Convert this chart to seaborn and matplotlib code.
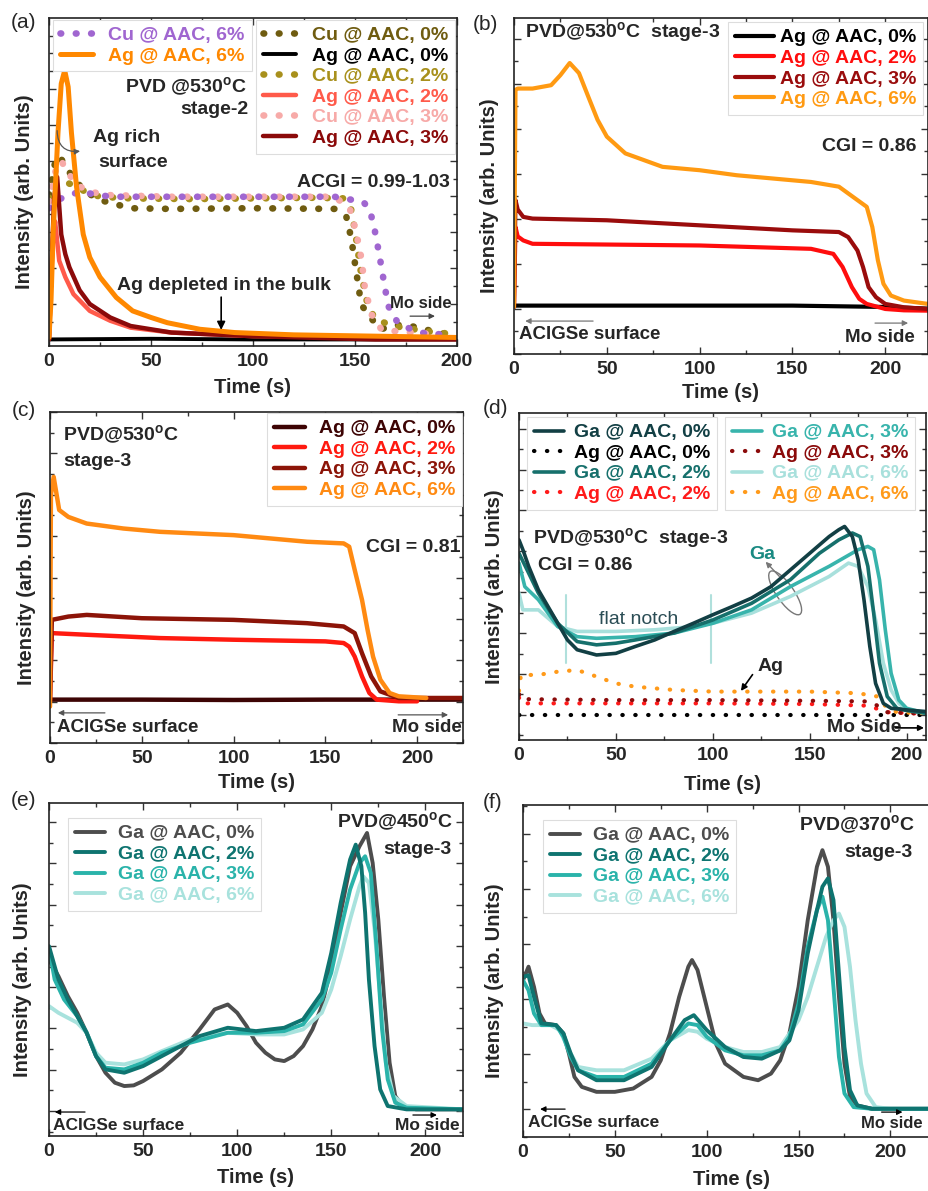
import seaborn as sns
import matplotlib.pyplot as plt
import matplotlib.ticker as ticker
from matplotlib.patches import Ellipse

# ---------------- data (y in normalised intensity) ----------------
# (a) PVD @530C stage-2
a_ag6_t = [0, 1, 2, 4.4, 6, 7.7, 9.4, 11, 13.5, 16.8, 20, 25, 33, 41, 50, 58, 74, 91, 120, 150, 200]
a_ag6_y = [0.026, 0.14, 0.34, 0.65, 0.80, 0.84, 0.79, 0.65, 0.485, 0.34, 0.27, 0.21, 0.148, 0.107, 0.087, 0.071, 0.051, 0.041, 0.034, 0.031, 0.026]
a_ag3_t = [0, 1, 2.5, 4, 6, 8, 10, 15, 20, 30, 40, 60, 100, 160, 200]
a_ag3_y = [0.02, 0.2, 0.45, 0.515, 0.34, 0.28, 0.24, 0.17, 0.128, 0.087, 0.061, 0.041, 0.03, 0.02, 0.02]
a_ag2_t = [0, 1, 2, 3, 5, 8, 12, 20, 30, 40, 60, 100, 200]
a_ag2_y = [0.02, 0.2, 0.33, 0.38, 0.26, 0.21, 0.158, 0.107, 0.077, 0.056, 0.041, 0.03, 0.023]
a_ag0_t = [0, 50, 100, 150, 200]
a_ag0_y = [0.02, 0.022, 0.02, 0.02, 0.02]
a_cu6_t = [0, 3, 6, 10, 15, 20, 30, 50, 80, 110, 140, 150, 154, 157.3, 159.7, 161.9, 164.3, 166.3, 171.2, 179.5, 186, 193.4]
a_cu6_y = [0.42, 0.44, 0.45, 0.46, 0.47, 0.465, 0.455, 0.455, 0.455, 0.455, 0.455, 0.444, 0.44, 0.415, 0.352, 0.279, 0.191, 0.122, 0.068, 0.046, 0.036, 0.036]
a_cu0_t = [0, 3, 5, 8, 12, 18, 25, 40, 60, 100, 140, 145.8, 148.2, 149.9, 152.3, 154, 157.3, 162.2, 172.9, 179.5, 197.5]
a_cu0_y = [0.46, 0.56, 0.58, 0.55, 0.51, 0.47, 0.445, 0.42, 0.418, 0.42, 0.418, 0.393, 0.327, 0.255, 0.157, 0.118, 0.09, 0.051, 0.066, 0.058, 0.031]
a_cu2_t = [0, 4, 8, 12, 18, 25, 40, 70, 100, 130, 145, 148, 150, 153, 156, 160, 170, 185, 200]
a_cu2_y = [0.45, 0.5, 0.5, 0.49, 0.47, 0.455, 0.45, 0.448, 0.45, 0.452, 0.45, 0.42, 0.35, 0.22, 0.13, 0.08, 0.06, 0.045, 0.035]
a_cu3_t = [0, 3, 6, 9, 14, 20, 30, 60, 100, 140, 147.4, 150.4, 153.2, 154.8, 158, 163, 170, 180, 190]
a_cu3_y = [0.44, 0.53, 0.565, 0.53, 0.49, 0.47, 0.46, 0.455, 0.455, 0.455, 0.42, 0.352, 0.265, 0.179, 0.097, 0.05, 0.045, 0.04, 0.035]

# (b) PVD@530C stage-3, CGI 0.86
b_ag6_t = [0, 0.8, 2, 10, 20, 25, 30, 35, 40, 45, 50, 60, 70, 80, 100, 120, 140, 160, 175, 185, 190, 193, 196, 199, 203, 210, 223]
b_ag6_y = [0.14, 0.786, 0.79, 0.79, 0.80, 0.83, 0.866, 0.836, 0.766, 0.697, 0.647, 0.597, 0.577, 0.557, 0.547, 0.532, 0.522, 0.512, 0.498, 0.458, 0.438, 0.378, 0.279, 0.209, 0.174, 0.159, 0.149]
b_ag3_t = [0, 0.8, 2, 5, 10, 50, 100, 150, 175, 180, 185, 188, 191, 195, 200, 210, 223]
b_ag3_y = [0.14, 0.458, 0.43, 0.408, 0.403, 0.398, 0.383, 0.368, 0.363, 0.348, 0.308, 0.259, 0.199, 0.169, 0.149, 0.139, 0.134]
b_ag2_t = [0, 0.8, 2, 5, 10, 100, 160, 172, 177, 182, 186, 190, 200, 210, 223]
b_ag2_y = [0.14, 0.378, 0.35, 0.338, 0.328, 0.323, 0.313, 0.298, 0.259, 0.199, 0.164, 0.149, 0.134, 0.13, 0.129]
b_ag0_t = [0, 50, 100, 150, 200, 223]
b_ag0_y = [0.144, 0.144, 0.144, 0.144, 0.14, 0.135]

# (c) PVD@530C stage-3, CGI 0.81
c_ag6_t = [0, 0.5, 2, 5, 10, 20, 40, 60, 80, 100, 120, 140, 160, 163, 166, 170, 173, 176, 180, 185, 190, 205]
c_ag6_y = [0.11, 0.75, 0.804, 0.704, 0.683, 0.663, 0.648, 0.638, 0.633, 0.628, 0.618, 0.608, 0.603, 0.593, 0.523, 0.432, 0.342, 0.261, 0.191, 0.151, 0.141, 0.136]
c_ag3_t = [0, 1, 10, 20, 50, 100, 140, 160, 166, 170, 175, 180, 190, 225]
c_ag3_y = [0.13, 0.372, 0.382, 0.387, 0.377, 0.372, 0.362, 0.352, 0.332, 0.271, 0.201, 0.156, 0.136, 0.136]
c_ag2_t = [0, 1, 20, 60, 100, 150, 160, 163, 166, 170, 174, 178, 190, 200]
c_ag2_y = [0.13, 0.332, 0.327, 0.317, 0.312, 0.307, 0.302, 0.291, 0.261, 0.201, 0.151, 0.131, 0.126, 0.126]
c_ag0_t = [0, 50, 100, 150, 225]
c_ag0_y = [0.131, 0.131, 0.13, 0.131, 0.131]

# (d) Ga and Ag, PVD@530C stage-3
d_ga0_t = [0, 2, 5, 10, 15, 20, 25, 30, 40, 50, 60, 70, 80, 90, 100, 110, 120, 130, 140, 150, 160, 165, 168, 172, 175, 178, 181, 184, 188, 192, 200, 210]
d_ga0_y = [0.612, 0.582, 0.531, 0.459, 0.408, 0.357, 0.306, 0.276, 0.26, 0.265, 0.286, 0.306, 0.332, 0.357, 0.383, 0.408, 0.434, 0.469, 0.52, 0.571, 0.622, 0.643, 0.653, 0.622, 0.551, 0.429, 0.286, 0.173, 0.112, 0.097, 0.092, 0.087]
d_ga2_t = [0, 5, 10, 20, 30, 40, 50, 60, 80, 100, 120, 140, 155, 165, 172, 176, 180, 183, 186, 190, 195, 200, 210]
d_ga2_y = [0.571, 0.51, 0.449, 0.357, 0.301, 0.291, 0.296, 0.306, 0.327, 0.367, 0.418, 0.49, 0.571, 0.612, 0.633, 0.622, 0.531, 0.388, 0.235, 0.133, 0.097, 0.09, 0.082]
d_ga3_t = [0, 3, 10, 20, 30, 40, 60, 80, 100, 120, 140, 160, 175, 180, 183, 186, 189, 192, 196, 200, 210]
d_ga3_y = [0.541, 0.469, 0.429, 0.347, 0.316, 0.311, 0.316, 0.327, 0.357, 0.398, 0.469, 0.531, 0.582, 0.592, 0.582, 0.49, 0.337, 0.204, 0.122, 0.097, 0.082]
d_ga6_t = [0, 2, 10, 20, 30, 50, 70, 90, 100, 120, 140, 160, 170, 175, 180, 184, 188, 192, 196, 200, 210]
d_ga6_y = [0.449, 0.398, 0.398, 0.347, 0.332, 0.332, 0.337, 0.347, 0.357, 0.388, 0.439, 0.5, 0.541, 0.531, 0.469, 0.367, 0.235, 0.153, 0.112, 0.092, 0.082]
d_ag6_t = [0, 1, 10, 20, 30, 35, 40, 50, 60, 80, 100, 120, 150, 175, 185, 190, 195, 210]
d_ag6_y = [0.15, 0.199, 0.199, 0.209, 0.214, 0.204, 0.194, 0.173, 0.163, 0.153, 0.148, 0.148, 0.148, 0.143, 0.133, 0.097, 0.085, 0.082]
d_ag3_t = [0, 1, 50, 100, 150, 180, 185, 190, 210]
d_ag3_y = [0.14, 0.125, 0.122, 0.122, 0.12, 0.118, 0.105, 0.085, 0.08]
d_ag2_t = [0, 1, 50, 100, 150, 180, 185, 190, 210]
d_ag2_y = [0.13, 0.112, 0.112, 0.112, 0.11, 0.105, 0.095, 0.085, 0.08]
d_ag0_t = [0, 50, 100, 150, 200, 210]
d_ag0_y = [0.077, 0.077, 0.077, 0.077, 0.077, 0.077]

# (e) Ga, PVD@450C stage-3
e_ga0_t = [0, 5, 10, 15, 20, 25, 30, 35, 40, 45, 50, 60, 70, 80, 88, 95, 100, 105, 110, 115, 120, 125, 130, 135, 140, 145, 150, 155, 160, 165, 169, 172, 175, 178, 181, 184, 188, 195, 220]
e_ga0_y = [0.53, 0.48, 0.42, 0.37, 0.31, 0.24, 0.19, 0.16, 0.15, 0.152, 0.165, 0.20, 0.25, 0.32, 0.38, 0.395, 0.37, 0.33, 0.28, 0.25, 0.23, 0.225, 0.24, 0.27, 0.32, 0.39, 0.51, 0.67, 0.81, 0.87, 0.91, 0.82, 0.65, 0.42, 0.22, 0.12, 0.09, 0.08, 0.08]
e_ga2_t = [0, 5, 10, 15, 20, 25, 30, 40, 50, 60, 70, 80, 95, 110, 125, 135, 145, 150, 155, 160, 163, 166, 168, 170, 173, 176, 180, 190, 220]
e_ga2_y = [0.57, 0.47, 0.41, 0.36, 0.31, 0.24, 0.20, 0.19, 0.21, 0.24, 0.27, 0.30, 0.325, 0.315, 0.325, 0.35, 0.43, 0.55, 0.70, 0.83, 0.875, 0.81, 0.67, 0.47, 0.27, 0.14, 0.09, 0.08, 0.08]
e_ga3_t = [0, 3, 8, 15, 20, 25, 30, 40, 50, 60, 75, 95, 110, 125, 135, 145, 150, 155, 160, 165, 168, 171, 174, 177, 180, 184, 190, 220]
e_ga3_y = [0.565, 0.47, 0.41, 0.36, 0.31, 0.24, 0.205, 0.20, 0.22, 0.25, 0.28, 0.31, 0.31, 0.315, 0.335, 0.41, 0.49, 0.62, 0.74, 0.82, 0.84, 0.79, 0.57, 0.32, 0.17, 0.10, 0.085, 0.08]
e_ga6_t = [0, 5, 10, 15, 20, 25, 30, 40, 50, 60, 75, 95, 110, 125, 135, 145, 150, 155, 160, 165, 167, 170, 173, 176, 179, 183, 190, 220]
e_ga6_y = [0.39, 0.37, 0.355, 0.34, 0.31, 0.25, 0.22, 0.215, 0.23, 0.255, 0.29, 0.31, 0.305, 0.305, 0.32, 0.37, 0.44, 0.54, 0.65, 0.75, 0.78, 0.76, 0.62, 0.42, 0.22, 0.12, 0.09, 0.08]

# (f) Ga, PVD@370C stage-3
f_ga0_t = [0, 3, 6, 9, 12, 18, 22, 25, 28, 32, 40, 50, 60, 70, 75, 80, 85, 90, 92, 95, 100, 105, 110, 120, 128, 135, 140, 145, 150, 155, 160, 163, 166, 169, 172, 175, 178, 182, 190, 227]
f_ga0_y = [0.472, 0.513, 0.452, 0.372, 0.342, 0.337, 0.312, 0.251, 0.181, 0.151, 0.136, 0.136, 0.146, 0.181, 0.231, 0.312, 0.422, 0.513, 0.533, 0.503, 0.392, 0.281, 0.221, 0.181, 0.171, 0.191, 0.231, 0.312, 0.452, 0.653, 0.814, 0.864, 0.814, 0.653, 0.422, 0.221, 0.121, 0.095, 0.085, 0.085]
f_ga2_t = [0, 3, 6, 10, 18, 22, 26, 30, 40, 55, 70, 80, 88, 93, 100, 110, 120, 130, 140, 145, 150, 155, 160, 163, 166, 169, 172, 175, 178, 182, 190, 227]
f_ga2_y = [0.482, 0.487, 0.422, 0.342, 0.337, 0.312, 0.251, 0.201, 0.171, 0.171, 0.211, 0.291, 0.352, 0.367, 0.322, 0.271, 0.241, 0.236, 0.261, 0.291, 0.382, 0.553, 0.683, 0.754, 0.779, 0.714, 0.492, 0.271, 0.141, 0.095, 0.085, 0.085]
f_ga3_t = [0, 3, 6, 10, 18, 22, 26, 30, 40, 55, 70, 80, 90, 95, 100, 110, 120, 130, 140, 145, 150, 155, 160, 163, 166, 169, 172, 175, 180, 190, 227]
f_ga3_y = [0.472, 0.442, 0.372, 0.337, 0.337, 0.302, 0.241, 0.201, 0.181, 0.181, 0.221, 0.291, 0.342, 0.337, 0.302, 0.261, 0.246, 0.246, 0.261, 0.302, 0.402, 0.573, 0.683, 0.724, 0.653, 0.452, 0.241, 0.131, 0.09, 0.085, 0.085]
f_ga6_t = [0, 5, 15, 20, 25, 30, 40, 55, 70, 80, 90, 95, 100, 110, 120, 130, 140, 150, 155, 160, 165, 169, 172, 175, 178, 181, 184, 187, 192, 200, 227]
f_ga6_y = [0.342, 0.337, 0.337, 0.322, 0.261, 0.211, 0.201, 0.201, 0.236, 0.291, 0.322, 0.317, 0.296, 0.271, 0.256, 0.256, 0.271, 0.352, 0.422, 0.513, 0.603, 0.653, 0.673, 0.633, 0.513, 0.352, 0.221, 0.131, 0.09, 0.085, 0.085]

LEG = 'Ag @ AAC, {}'
GA = 'Ga @ AAC, {}'
CU = 'Cu @ AAC, {}'

# ---------------- style ----------------
sns.set_style('ticks')
plt.rcParams['font.family'] = ['Liberation Sans', 'DejaVu Sans']
plt.rcParams['font.weight'] = 'bold'
plt.rcParams['mathtext.fontset'] = 'custom'
plt.rcParams['mathtext.rm'] = 'Liberation Sans:bold'
plt.rcParams['mathtext.bf'] = 'Liberation Sans:bold'
DEG = '$^\\mathrm{o}$'

W, H = 929, 1191
fig = plt.figure(figsize=(W / 100, H / 100), dpi=100)


def make_ax(l, t, r, b):
    return fig.add_axes([l / W, 1 - b / H, (r - l) / W, (b - t) / H])


def style(ax, xmax, ybase, yoff, xlab_y, ylab_x):
    ax.set_xlim(0, xmax)
    ax.set_ylim(0, 1)
    ax.xaxis.set_major_locator(ticker.MultipleLocator(50))
    ax.xaxis.set_minor_locator(ticker.MultipleLocator(25))
    ax.yaxis.set_major_locator(ticker.MultipleLocator(ybase, offset=yoff))
    ax.yaxis.set_minor_locator(ticker.AutoMinorLocator(2))
    ax.tick_params(which='both', direction='in', top=True, right=True, labelleft=False, width=1, color='#333333')
    ax.tick_params(which='major', length=5, labelsize=14, pad=5)
    ax.tick_params(which='minor', length=3)
    for s in ax.spines.values():
        s.set_linewidth(1.2)
        s.set_color('#222222')
    ax.set_xlabel('Time (s)', fontsize=14.5, fontweight='bold')
    ax.set_ylabel('Intensity (arb. Units)', fontsize=14.5, fontweight='bold')
    ax.xaxis.set_label_coords(0.5, xlab_y)
    ax.yaxis.set_label_coords(ylab_x, 0.47)


def trace(ax, t, y, color, lw, label, dotted=False, gap=2.2):
    sns.lineplot(x=t, y=y, ax=ax, color=color, linewidth=lw, estimator=None, sort=False, legend=False)
    ln = ax.lines[-1]
    if dotted:
        ln.set_linestyle((0, (0.1, gap)))
        ln.set_dash_capstyle('round')
    ln.set_label(label)
    return ln


def legend(ax, handles, anchor, loc, hl, htp):
    leg = ax.legend(handles=handles, loc=loc, bbox_to_anchor=anchor, fontsize=14, labelspacing=0.15,
                    handlelength=hl, handletextpad=htp, borderpad=0.35, borderaxespad=0, frameon=True,
                    fancybox=False, edgecolor='#dddddd', framealpha=1)
    leg.get_frame().set_linewidth(0.8)
    for txt, h in zip(leg.get_texts(), handles):
        txt.set_color(h.get_color())
        txt.set_fontweight('bold')
    return leg


def txt(ax, x, y, s, ha='left', size=14, **kw):
    ax.text(x, y, s, transform=ax.transAxes, ha=ha, va='center', fontsize=size, fontweight=kw.pop('weight', 'bold'), **kw)


def arrow(ax, x0, x1, y, color='#444444', lw=0.9):
    ax.annotate('', xy=(x1, y), xytext=(x0, y), xycoords='axes fraction',
                arrowprops=dict(arrowstyle='-|>', color=color, lw=lw, mutation_scale=8, shrinkA=0, shrinkB=0))


# ---------------- (a) ----------------
ax = make_ax(49, 18, 457, 346)
cu0 = trace(ax, a_cu0_t, a_cu0_y, '#6f5c10', 4.8, CU.format('0%'), dotted=True)
cu2 = trace(ax, a_cu2_t, a_cu2_y, '#a8901c', 4.8, CU.format('2%'), dotted=True)
cu3 = trace(ax, a_cu3_t, a_cu3_y, '#f7aaa8', 4.8, CU.format('3%'), dotted=True)
cu6 = trace(ax, a_cu6_t, a_cu6_y, '#a066d0', 4.8, CU.format('6%'), dotted=True)
ag0 = trace(ax, a_ag0_t, a_ag0_y, '#000000', 2.8, LEG.format('0%'))
ag2 = trace(ax, a_ag2_t, a_ag2_y, '#ff5a4a', 3.2, LEG.format('2%'))
ag3 = trace(ax, a_ag3_t, a_ag3_y, '#8b0a0a', 3.2, LEG.format('3%'))
ag6 = trace(ax, a_ag6_t, a_ag6_y, '#ff8800', 3.6, LEG.format('6%'))
style(ax, 200, 0.109, 0.02, -0.098, -0.037)
l1 = legend(ax, [cu6, ag6], (0.01, 0.995), 'upper left', 1.7, 0.8)
ax.add_artist(l1)
legend(ax, [cu0, ag0, cu2, ag2, cu3, ag3], (0.995, 0.995), 'upper right', 1.7, 0.8)
txt(ax, 0.485, 0.787, 'PVD @530' + DEG + 'C', ha='right')
txt(ax, 0.488, 0.72, 'stage-2', ha='right')
txt(ax, 0.191, 0.637, 'Ag rich', ha='center')
txt(ax, 0.206, 0.558, 'surface', ha='center')
ax.annotate('', xy=(0.083, 0.595), xytext=(0.02, 0.665), xycoords='axes fraction',
            arrowprops=dict(arrowstyle='-|>', color='#555555', lw=0.9, mutation_scale=8,
                            connectionstyle='arc3,rad=0.6'))
txt(ax, 0.608, 0.497, 'ACGI = 0.99-1.03')
txt(ax, 0.167, 0.183, 'Ag depleted in the bulk')
ax.annotate('', xy=(0.422, 0.049), xytext=(0.422, 0.149), xycoords='axes fraction',
            arrowprops=dict(arrowstyle='-|>', color='black', lw=1.2, mutation_scale=12, shrinkA=0, shrinkB=0))
txt(ax, 0.836, 0.131, 'Mo side', size=12)
arrow(ax, 0.885, 0.946, 0.091)

# ---------------- (b) ----------------
ax = make_ax(514, 18, 928, 354)
h0 = trace(ax, b_ag0_t, b_ag0_y, '#000000', 3.0, LEG.format('0%'))
h2 = trace(ax, b_ag2_t, b_ag2_y, '#ff0d0d', 3.0, LEG.format('2%'))
h3 = trace(ax, b_ag3_t, b_ag3_y, '#9a0c0c', 3.0, LEG.format('3%'))
h6 = trace(ax, b_ag6_t, b_ag6_y, '#ff9a12', 3.0, LEG.format('6%'))
for h in (h0, h2, h3, h6):
    pass
style(ax, 223, 0.134, 0.0, -0.086, -0.036)
legend(ax, [h0, h2, h3, h6], (0.988, 0.988), 'upper right', 2.0, 0.3)
txt(ax, 0.027, 0.955, 'PVD@530' + DEG + 'C  stage-3')
txt(ax, 0.973, 0.619, 'CGI = 0.86', ha='right')
txt(ax, 0.012, 0.057, 'ACIGSe surface', size=13.5)
arrow(ax, 0.191, 0.027, 0.098, color='#777777')
txt(ax, 0.969, 0.048, 'Mo side', ha='right', size=13.5)
arrow(ax, 0.872, 0.952, 0.092, color='#777777')

# ---------------- (c) ----------------
ax = make_ax(50, 412, 463, 743)
h0 = trace(ax, c_ag0_t, c_ag0_y, '#3d0404', 3.2, LEG.format('0%'))
h2 = trace(ax, c_ag2_t, c_ag2_y, '#ff1a10', 3.2, LEG.format('2%'))
h3 = trace(ax, c_ag3_t, c_ag3_y, '#8c1408', 3.2, LEG.format('3%'))
h6 = trace(ax, c_ag6_t, c_ag6_y, '#ff8a12', 3.2, LEG.format('6%'))
style(ax, 225, 0.125, 0.0, -0.09, -0.034)
legend(ax, [h0, h2, h3, h6], (0.998, 0.997), 'upper right', 1.6, 0.7)
txt(ax, 0.031, 0.93, 'PVD@530' + DEG + 'C')
txt(ax, 0.031, 0.849, 'stage-3')
txt(ax, 0.993, 0.592, 'CGI = 0.81', ha='right')
txt(ax, 0.017, 0.048, 'ACIGSe surface', size=13.5)
arrow(ax, 0.133, 0.019, 0.091, color='#555555')
txt(ax, 0.998, 0.048, 'Mo side', ha='right', size=13.5)
arrow(ax, 0.843, 0.964, 0.085, color='#555555')

# ---------------- (d) ----------------
ax = make_ax(519, 413, 926, 740)
ax.axvline(24.4, 0.237, 0.444, color='#b0e0dc', lw=1.5)
ax.axvline(99, 0.237, 0.444, color='#b0e0dc', lw=1.5)
a0 = trace(ax, d_ag0_t, d_ag0_y, '#000000', 3.0, LEG.format('0%'), dotted=True, gap=3.0)
a2 = trace(ax, d_ag2_t, d_ag2_y, '#ff1a1a', 3.0, LEG.format('2%'), dotted=True, gap=3.0)
a3 = trace(ax, d_ag3_t, d_ag3_y, '#8b0a0a', 3.0, LEG.format('3%'), dotted=True, gap=3.0)
a6 = trace(ax, d_ag6_t, d_ag6_y, '#ff9a1a', 3.0, LEG.format('6%'), dotted=True, gap=3.0)
g6 = trace(ax, d_ga6_t, d_ga6_y, '#a8e0dc', 2.6, GA.format('6%'))
g3 = trace(ax, d_ga3_t, d_ga3_y, '#38b4ac', 2.6, GA.format('3%'))
g2 = trace(ax, d_ga2_t, d_ga2_y, '#16706c', 2.6, GA.format('2%'))
g0 = trace(ax, d_ga0_t, d_ga0_y, '#123f44', 2.6, GA.format('0%'))
style(ax, 210, 0.125, 0.077, -0.107, -0.037)
l1 = legend(ax, [g0, a0, g2, a2], (0.02, 0.988), 'upper left', 1.55, 0.5)
ax.add_artist(l1)
legend(ax, [g3, a3, g6, a6], (0.973, 0.988), 'upper right', 1.55, 0.5)
txt(ax, 0.034, 0.615, 'PVD@530' + DEG + 'C  stage-3')
txt(ax, 0.047, 0.535, 'CGI = 0.86')
txt(ax, 0.597, 0.566, 'Ga', ha='center', color='#1a8a82')
ax.add_patch(Ellipse((0.654, 0.45), 0.045, 0.15, angle=28, transform=ax.transAxes,
                     fill=False, edgecolor='#777777', lw=1.0))
ax.annotate('', xy=(0.606, 0.545), xytext=(0.64, 0.5), xycoords='axes fraction',
            arrowprops=dict(arrowstyle='-|>', color='#777777', lw=1.0, mutation_scale=8, shrinkA=0, shrinkB=0))
txt(ax, 0.295, 0.367, 'flat notch', ha='center', color='#2b4d55', weight='normal')
txt(ax, 0.587, 0.226, 'Ag')
ax.annotate('', xy=(114.5, 0.15), xytext=(120.5, 0.2), xycoords='data',
            arrowprops=dict(arrowstyle='-|>', color='black', lw=1.2, mutation_scale=9, shrinkA=0, shrinkB=0))
txt(ax, 0.757, 0.037, 'Mo Side')
arrow(ax, 0.925, 0.995, 0.037, color='black', lw=1.2)

# ---------------- (e) ----------------
ax = make_ax(49, 803, 463, 1136)
e0 = trace(ax, e_ga0_t, e_ga0_y, '#4d4d4d', 2.8, GA.format('0%'))
e6 = trace(ax, e_ga6_t, e_ga6_y, '#a8e2dd', 2.8, GA.format('6%'))
e3 = trace(ax, e_ga3_t, e_ga3_y, '#2ab3aa', 2.8, GA.format('3%'))
e2 = trace(ax, e_ga2_t, e_ga2_y, '#0e7470', 2.8, GA.format('2%'))
style(ax, 220, 0.124, 0.075, -0.096, -0.041)
legend(ax, [e0, e2, e3, e6], (0.046, 0.955), 'upper left', 1.55, 0.65)
txt(ax, 0.976, 0.943, 'PVD@450' + DEG + 'C', ha='right')
txt(ax, 0.973, 0.859, 'stage-3', ha='right')
txt(ax, 0.01, 0.033, 'ACIGSe surface', size=12.5)
arrow(ax, 0.087, 0.014, 0.072, color='black')
txt(ax, 0.993, 0.033, 'Mo side', ha='right', size=12.5)
arrow(ax, 0.879, 0.937, 0.063, color='black')

# ---------------- (f) ----------------
ax = make_ax(523, 805, 940, 1137)
f0 = trace(ax, f_ga0_t, f_ga0_y, '#4d4d4d', 2.8, GA.format('0%'))
f6 = trace(ax, f_ga6_t, f_ga6_y, '#a8e2dd', 2.8, GA.format('6%'))
f3 = trace(ax, f_ga3_t, f_ga3_y, '#2ab3aa', 2.8, GA.format('3%'))
f2 = trace(ax, f_ga2_t, f_ga2_y, '#0e7470', 2.8, GA.format('2%'))
style(ax, 227, 0.166, 0.083, -0.1, -0.046)
legend(ax, [f0, f2, f3, f6], (0.048, 0.955), 'upper left', 1.55, 0.65)
txt(ax, 0.94, 0.94, 'PVD@370' + DEG + 'C', ha='right')
txt(ax, 0.933, 0.858, 'stage-3', ha='right')
txt(ax, 0.012, 0.045, 'ACIGSe surface', size=12.5)
arrow(ax, 0.101, 0.041, 0.084, color='black')
txt(ax, 0.81, 0.042, 'Mo side', size=12)
arrow(ax, 0.86, 0.91, 0.075, color='black')

# panel letters
for s, x, y in [('(a)', 24, 22), ('(b)', 485, 24), ('(c)', 24, 410), ('(d)', 496, 408), ('(e)', 24, 800), ('(f)', 493, 803)]:
    fig.text(x / W, 1 - y / H, s, ha='center', va='center', fontsize=15, fontweight='normal')

fig.savefig('out.png', dpi=100)
